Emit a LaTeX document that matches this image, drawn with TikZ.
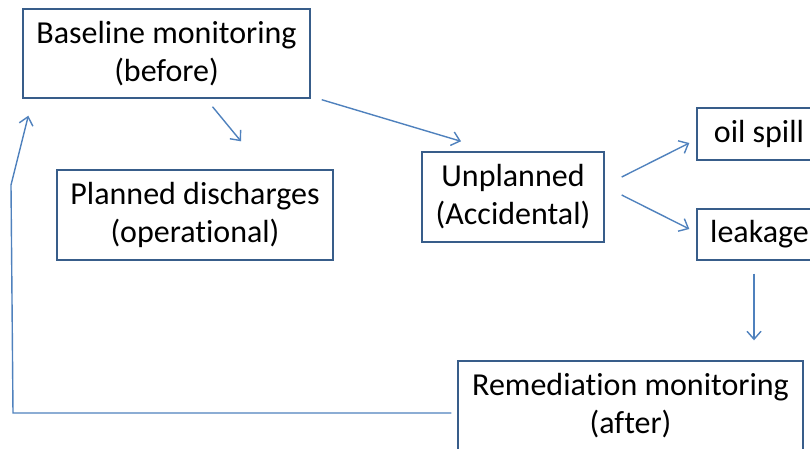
\documentclass[tikz,border=0pt]{standalone}
\usepackage{fontspec}
\setmainfont[Ligatures=NoCommon]{Carlito}
\usetikzlibrary{arrows.meta,calc}
\definecolor{boxblue}{RGB}{56,93,138}
\definecolor{arrowblue}{RGB}{79,129,189}

\begin{document}
\begin{tikzpicture}[x=1pt, y=1pt,
    box/.style={draw=boxblue, line width=1.4pt, align=center, inner sep=0pt,
        font=\fontsize{32}{38}\selectfont},
    arr/.style={draw=arrowblue, line width=1.4pt, -{Straight Barb[length=8pt,width=14pt]}}]
    \clip (0,0) rectangle (810,-448);
    \useasboundingbox (0,0) rectangle (810,-448);

    % Boxes
    \node[box, minimum width=287pt, minimum height=89pt] (base) at (166.5,-53.5) {
        Baseline monitoring \\
        (before)
    };
    \node[box, minimum width=276pt, minimum height=90pt] (plan) at (195,-215) {
        Planned discharges \\
        (operational)
    };
    \node[box, minimum width=182pt, minimum height=90pt] (unpl) at (513,-197) {
        Unplanned \\
        (Accidental)
    };
    \node[box, minimum width=124pt, minimum height=52pt] (oil) at (759,-134) {oil spill};
    \node[box, minimum width=125pt, minimum height=51pt] (leak) at (759.5,-234.5) {leakage};
    \node[box, minimum width=345pt, minimum height=90pt] (rem) at (630.5,-406) {
        Remediation monitoring \\
        (after)
    };

    % Arrows
    \draw[arr] ([xshift=46pt,yshift=-8pt]base.south) -- ([xshift=46pt,yshift=28pt]plan.north);
    \draw[arr] ([xshift=11pt,yshift=-1pt]base.south east) -- ([xshift=-52pt,yshift=10pt]unpl.north);
    \draw[arr] ([xshift=17pt,yshift=20pt]unpl.east) -- ([xshift=-7pt,yshift=-9pt]oil.west);
    \draw[arr] ([xshift=17pt,yshift=2pt]unpl.east) -- ([xshift=-7pt,yshift=5.5pt]leak.west);
    \draw[arr] ([xshift=-5.5pt,yshift=-13pt]leak.south) -- ([xshift=123.5pt,yshift=20pt]rem.north);

    % Feedback loop
    \coordinate (loopa) at (13,-413);
    \coordinate (loopb) at (11,-185);
    \draw[arr] ([xshift=-6pt,yshift=-7pt]rem.west) -- (loopa) -- (loopb) -- ([xshift=6pt,yshift=-17pt]base.south west);
\end{tikzpicture}
\end{document}
